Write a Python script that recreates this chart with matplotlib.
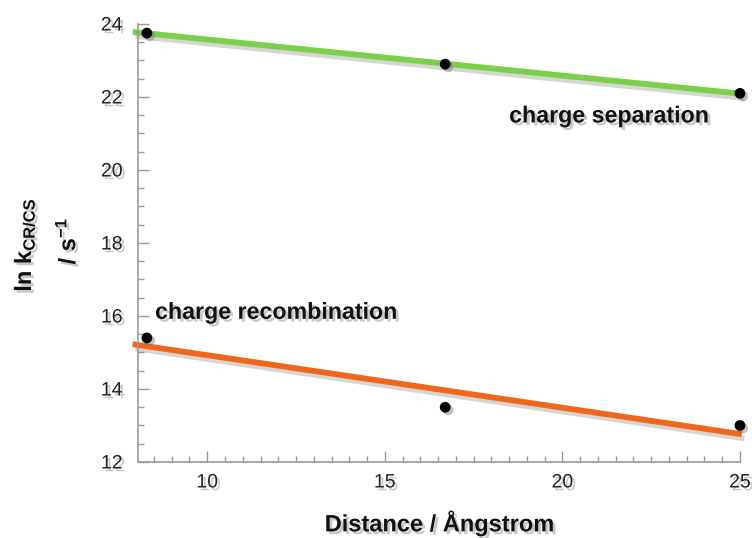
import numpy as np
import matplotlib
matplotlib.use("Agg")
import matplotlib.pyplot as plt
import matplotlib.patheffects as pe
from matplotlib.ticker import MultipleLocator

plt.rcParams["font.family"] = ["Liberation Sans", "DejaVu Sans"]
plt.rcParams["mathtext.fontset"] = "custom"
plt.rcParams["mathtext.rm"] = "Liberation Sans"
plt.rcParams["mathtext.bf"] = "Liberation Sans:bold"
plt.rcParams["mathtext.it"] = "Liberation Sans:italic"

# Donor-acceptor distances (Å) and log rate constants
distance = [8.3, 16.7, 25.0]
ln_k_cs = [23.75, 22.9, 22.1]   # charge separation
ln_k_cr = [15.4, 13.5, 13.0]    # charge recombination

x_ticks = [10, 15, 20, 25]
y_ticks = [12, 14, 16, 18, 20, 22, 24]

green = "#7ccf4b"
orange = "#f2661b"

text_shadow = [pe.SimplePatchShadow(offset=(2, -2), shadow_rgbFace="#888888", alpha=0.45), pe.Normal()]
line_shadow = [pe.SimpleLineShadow(offset=(2, -3), shadow_color="#777777", alpha=0.3), pe.Normal()]
dot_shadow = [pe.SimplePatchShadow(offset=(2, -2), shadow_rgbFace="#777777", alpha=0.45), pe.Normal()]

fig = plt.figure(figsize=(7.52, 5.38), dpi=100)
ax = fig.add_axes([0.1835, 0.1413, 0.8005, 0.8141])

x_lo, x_hi = 8.05, 25.0
ax.set_xlim(x_lo, x_hi)
ax.set_ylim(12, 24)

# least-squares lines through each data set
xf = np.array([7.9, 25.05])
for ys, col in ((ln_k_cs, green), (ln_k_cr, orange)):
    m, b = np.polyfit(distance, ys, 1)
    ax.plot(xf, m * xf + b, color=col, lw=4.2, solid_capstyle="butt",
            path_effects=line_shadow, clip_on=False, zorder=2)

for ys in (ln_k_cs, ln_k_cr):
    ax.scatter(distance, ys, s=60, color="black", zorder=4, clip_on=False,
               path_effects=dot_shadow, linewidths=0)

ax.text(18.5, 21.48, "charge separation", fontsize=16.7, fontweight="bold",
        va="center", ha="left", color="#111111", path_effects=text_shadow)
ax.text(8.53, 16.1, "charge recombination", fontsize=16.7, fontweight="bold",
        va="center", ha="left", color="#111111", path_effects=text_shadow)

for side in ("top", "right"):
    ax.spines[side].set_visible(False)
for side in ("left", "bottom"):
    ax.spines[side].set_color("#9a9a9a")
    ax.spines[side].set_linewidth(1.2)

ax.set_xticks(x_ticks)
ax.set_yticks(y_ticks)
ax.xaxis.set_minor_locator(MultipleLocator(0.5))
ax.yaxis.set_minor_locator(MultipleLocator(0.5))
ax.tick_params(which="major", direction="in", length=8, width=1, color="#9a9a9a",
               labelsize=14, labelcolor="#222222")
ax.tick_params(which="minor", direction="in", length=4, width=1, color="#9a9a9a")
ax.tick_params(axis="y", which="major", pad=11)
ax.tick_params(axis="x", which="major", pad=9)
for lab in ax.get_xticklabels() + ax.get_yticklabels():
    lab.set_path_effects(text_shadow)

fig.text(0.585, 0.028, "Distance / Ångstrom", fontsize=17, fontweight="bold",
         ha="center", va="center", color="#111111", path_effects=text_shadow)
fig.text(0.032, 0.545, r"$\mathbf{ln\ k}_{\mathbf{CR/CS}}$", fontsize=17, rotation=90,
         ha="center", va="center", color="#111111", path_effects=text_shadow)
fig.text(0.090, 0.552, r"$\mathbf{/\ s^{-1}}$", fontsize=17, rotation=90,
         ha="center", va="center", color="#111111", path_effects=text_shadow)

fig.savefig("out.png", dpi=100, facecolor="white")
